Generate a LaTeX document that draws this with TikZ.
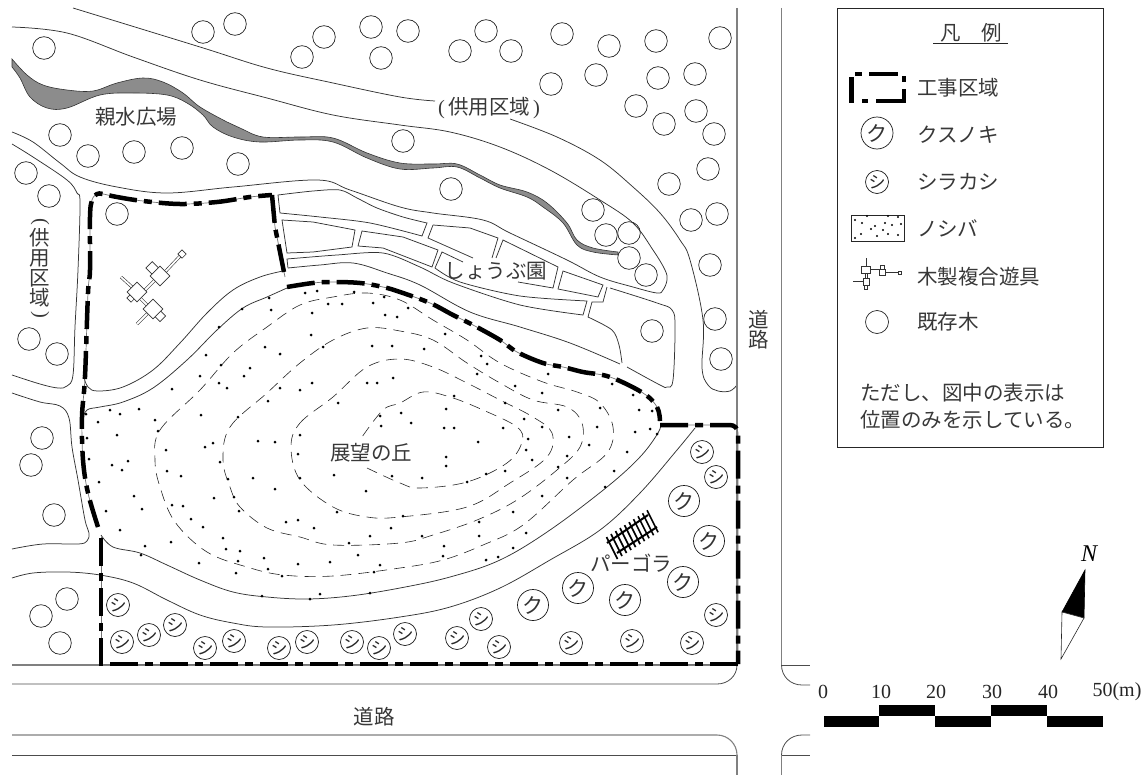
\documentclass[tikz,border=0pt]{standalone}
\usepackage{fontspec}
\setmainfont{Noto Sans CJK JP}
\newfontfamily\latinf{Liberation Serif}
\newcommand{\lbl}{\fontsize{20.5}{24}\selectfont}
\tikzset{
  x=1pt,y=-1pt,
  ln/.style={line width=0.75pt,draw=black!80},
  rd/.style={line width=1.1pt,draw=black!50},
  rdl/.style={line width=0.8pt,draw=black!70},
  contour/.style={line width=0.6pt,draw=black!85,dash pattern=on 11pt off 7pt},
  bound/.style={line width=4.5pt,draw=black,dash pattern=on 28pt off 7pt on 8pt off 7pt,
     preaction={draw,line width=0.7pt,solid,draw=black!55}},
  oldtree/.style={line width=0.7pt,draw=black!85},
  kus/.style={circle,draw=black!90,line width=0.7pt,inner sep=0pt,minimum size=31pt,font=\fontsize{21}{21}\selectfont,text=black!80},
  shi/.style={circle,draw=black!90,line width=0.7pt,inner sep=0pt,minimum size=23pt,font=\fontsize{17}{17}\selectfont,text=black!85},
  txt/.style={inner sep=0pt,font=\lbl,text=black!78},
  lg/.style={txt,anchor=west},
  num/.style={inner sep=0pt,font=\latinf\fontsize{20}{22}\selectfont,text=black!85},
  grass/.style={fill=black,draw=none},
  pgbox/.style={draw=black!80,line width=0.7pt,fill=white,rotate=45,inner sep=0pt,minimum width=#1,minimum height=#1},
  pgbar/.style={draw=black!80,line width=0.6pt,double=white,double distance=1.8pt},
}
\begin{document}
\begin{tikzpicture}
\useasboundingbox (0,0) rectangle (1148,776);
% water
\draw[line width=0.6pt,draw=black!80,fill=black!45]
 plot[smooth,tension=0.6] coordinates {(12,59)(27,75)(43,85)(67,90)(93,91)(117,83)(143,78)(163,82)(183,93)(200,107)(227,122)(240,128)(263,137)(300,137)(333,138)(367,153)(400,163)(433,164)(457,164)(480,175)(500,185)(527,192)(547,203)(567,223)(577,240)(593,248)(618,252)}
 -- plot[smooth,tension=0.6] coordinates {(618,255)(593,252)(577,245)(563,223)(543,207)(527,197)(500,188)(480,178)(457,167)(433,168)(400,169)(367,158)(333,142)(300,140)(260,142)(233,137)(213,127)(203,115)(187,103)(167,95)(133,93)(100,95)(67,108)(47,108)(30,97)(20,78)(12,67)} -- cycle;
% site lines
\draw[ln] plot[smooth,tension=0.6] coordinates {(73,8)(200,47)(267,68)(333,83)(400,97)(435,101)};
\draw[ln] plot[smooth,tension=0.6] coordinates {(510,119)(557,137)(600,160)(633,187)(660,213)(680,240)(690,260)(703,320)(702,368)(708,385)(718,391)(730,391)(737,385)};
\draw[ln] plot[smooth,tension=0.6] coordinates {(12,27)(67,33)(133,57)(200,80)(267,98)(333,115)(400,125)(450,132)(500,147)(550,170)(600,200)(633,223)(653,250)(665,270)(667,280)(663,290)(657,293)(633,287)(600,277)(567,260)(510,233)(483,220)(433,213)(400,207)(350,190)(317,180)(233,187)(167,193)(117,187)(80,177)(60,163)(33,142)(12,132)};
\draw[ln] plot[smooth,tension=0.6] coordinates {(12,144)(33,157)(67,180)(77,193)(80,203)(78,270)(75,327)(73,375)(67,386)(58,388)(40,384)(12,375)};
\draw[ln] plot[smooth,tension=0.6] coordinates {(12,393)(40,402)(60,406)(69,418)(72,447)(78,480)(85,520)(89,533)(87,541)(78,544)(43,544)(12,549)};
\draw[ln] plot[smooth,tension=0.6] coordinates {(12,578)(33,573)(67,572)(100,575)(133,583)(167,600)(200,615)(233,623)(267,627)(333,625)(400,617)(450,607)(500,588)(550,560)(600,530)(640,493)(677,450)(695,428)};
% hill
\draw[ln] plot[smooth,tension=0.6] coordinates {(82,420)(87,410)(100,407)(123,402)(153,388)(187,360)(217,330)(243,308)(267,297)(287,288)};
\draw[ln] plot[smooth,tension=0.6] coordinates {(101,535)(113,547)(140,553)(167,565)(200,580)(233,592)(267,597)(307,599)(350,596)(400,588)(450,577)(500,560)(550,530)(607,487)(640,457)(658,433)(661,423)};
\draw[ln] plot[smooth,tension=0.6] coordinates {(83,375)(88,387)(98,391)(123,387)(153,370)(180,343)(207,313)(233,290)(260,277)(283,271)};
\draw[ln] plot[smooth,tension=0.6] coordinates {(288,268)(320,265)(353,263)(387,273)(420,285)(470,312)(520,327)(570,343)(620,364)};
% shobu beds
\draw[ln] (278,195) -- plot[smooth,tension=0.5] coordinates {(278,195)(313,191)(340,190)(357,198)(377,208)(403,217)(427,223)} -- (422,236) -- plot[smooth,tension=0.5] coordinates {(422,236)(370,223)(320,217)(280,213)} -- cycle;
\draw[ln] (282,220) -- (313,222) -- (355,230) -- (352,247) -- (313,252) -- (287,253) -- cycle;
\draw[ln] (362,231) -- (403,237) -- (438,250) -- (432,267) -- (383,248) -- (358,246) -- cycle;
\draw[ln] (433,225) -- (470,228) -- (498,238) -- (492,258);
\draw[ln] (433,225) -- (428,238) -- (473,258);
\draw[ln] (518,282) -- (553,288) -- (558,267) -- (503,240) -- (496,258);
\draw[ln] (463,262) -- (442,252) -- (435,268) -- plot[smooth,tension=0.5] coordinates {(435,268)(460,282)(520,296)(587,301)} -- (583,315) -- plot[smooth,tension=0.5] coordinates {(583,315)(520,305)(453,283)(420,267)(383,253)(337,255)(287,259)} -- (288,268);
\draw[ln] (563,271) -- (603,285) -- (598,297) -- (558,289) -- cycle;
\draw[ln] plot[smooth,tension=0.5] coordinates {(607,287)(603,302)} -- (592,302) -- (588,317) -- plot[smooth,tension=0.5] coordinates {(588,317)(612,330)(619,345)(622,363)};
\draw[ln] plot[smooth,tension=0.6] coordinates {(610,288)(657,303)(672,310)(675,327)(673,380)(667,387)(660,385)(627,367)};
% roads
\draw[rd] (737,8) -- (737,665) -- (12,665);
\draw[rdl] (12,684) -- (717,684) .. controls (728,684) and (737,676) .. (737,665);
\draw[rd] (12,735) -- (717,735) .. controls (728,735) and (737,744) .. (737,755);
\draw[rdl] (12,755) -- (737,755);
\draw[rd] (737,755) -- (737,775);
\draw[rd] (781.5,8) -- (781.5,665);
\draw[rdl] (781.5,665) -- (810,665);
\draw[rdl] (781.5,665) .. controls (781.5,676) and (790,685) .. (802,685) -- (810,685);
\draw[rdl] (810,735) -- (802,735) .. controls (790,735) and (781.5,744) .. (781.5,755);
\draw[rdl] (781.5,755) -- (810,755);
\draw[rd] (781.5,755) -- (781.5,775);
% contours
\draw[contour] plot[smooth cycle,tension=0.6] coordinates {(155,460)(160,430)(200,390)(233,353)(267,327)(300,305)(333,297)(367,293)(400,300)(433,320)(467,340)(500,363)(543,382)(577,392)(600,403)(613,427)(607,453)(573,480)(523,525)(483,545)(443,560)(400,568)(333,576)(283,575)(247,567)(207,552)(175,522)(160,487)};
\draw[contour] plot[smooth cycle,tension=0.6] coordinates {(223,460)(230,427)(267,393)(300,363)(333,340)(367,328)(400,331)(433,340)(467,363)(500,383)(533,400)(567,407)(582,423)(580,447)(557,470)(517,500)(477,520)(433,535)(400,543)(333,545)(300,537)(267,528)(240,507)(230,487)};
\draw[contour] plot[smooth cycle,tension=0.6] coordinates {(291,447)(300,423)(333,397)(367,367)(400,359)(433,367)(467,383)(500,400)(533,417)(552,433)(547,457)(510,483)(467,507)(400,517)(367,517)(333,507)(300,480)};
\draw[contour] plot[smooth,tension=0.6] coordinates {(367,468)(400,483)(420,488)(467,482)(507,463)(522,442)(517,427)(483,410)(450,397)(423,392)(400,403)(383,410)(362,437)};
% boundary
\draw[bound] (738,664) -- (104,664);
\draw[bound] (101,666) -- (101,537);
\draw[bound] plot[smooth,tension=0.6] coordinates {(98,527)(88,493)(83,460)(82,417)(85,377)(88,293)(90,270)(90,217)(92,200)(97,194)(103,194)(117,197)(143,201)(180,204)(217,202)(250,197)(272,195)};
\draw[bound] (272,195) -- (275,227) -- (285,277);
\draw[bound] plot[smooth,tension=0.6] coordinates {(287,287)(313,283)(333,282)(360,283)(383,287)(400,292)(430,303)(453,315)(473,325)(500,340)(517,352)(543,363)(563,367)(583,372)(610,377)(643,393)(657,407)(660,421)};
\draw[bound,rounded corners=8pt] (660,425) -- (738,425) -- (738,664);
% grass dots
\foreach \x/\y in {269/298,305/293,317/291,354/292,384/297,373/303,328/304,342/304,271/310,242/309,312/313,385/315,397/317,219/327,311/335,265/347,323/347,372/346,392/346,206/355,280/354,221/365,250/368,244/376,200/376,393/378,219/383,227/388,280/388,300/390,312/383,367/383,377/383,172/389,268/401,338/403,110/410,139/409,120/414,86/414,201/415,238/417,155/420,98/422,158/431,380/416,381/426,117/435,87/438,300/435,258/441,275/442,213/443,205/447,166/450,298/454,89/459,128/461,112/465,220/462,122/470,167/471,181/476,253/478,300/478,334/475,392/476,228/479,99/482,275/489,366/491,134/496,214/498,234/497,172/505,183/506,142/509,106/511,239/511,337/512,191/519,286/522,298/520,203/527,314/528,391/528,
120/530,223/538,145/546,171/542,370/536,349/543,226/549,240/551,264/558,238/561,298/564,330/562,358/555,380/565,199/563,268/569,374/572,236/573,282/576,141/555,320/594,262/596,310/599,370/593,
408/308,445/334,424/349,481/356,487/364,477/374,548/374,515/386,612/384,633/395,542/393,454/396,505/403,600/408,446/409,558/410,639/410,652/411,401/413,524/419,411/423,444/428,454/428,503/428,542/427,597/427,650/429,635/432,657/434,569/437,528/439,478/442,589/445,526/450,627/452,446/457,567/456,532/460,446/466,558/467,505/471,614/471,486/474,422/478,567/478,467/482,605/487,542/496,513/512,403/516,479/522,
422/536,479/536,526/533,444/546,513/548,443/556,498/557,486/560}
  \fill[grass] (\x,\y) circle[radius=1.5pt];
% existing trees
\foreach \x/\y in {44/48,203/32,235/24,302/57,324/37,371/27,381/58,408/31,460/51,486/31,511/51,562/34,609/46,656/41,720/38,596/75,658/78,695/74,551/84,636/106,696/111,664/124,714/134,708/169,669/184,691/220,717/214,451/189,593/210,606/235,629/233,629/258,646/275,710/265,652/331,715/319,721/359,403/141,60/135,88/156,134/152,182/148,238/164,26/173,49/196,117/214,29/339,57/354,42/438,31/465,54/515,67/599,41/616,60/643}
  \draw[oldtree] (\x,\y) circle[radius=11.3pt];
% shirakashi
\foreach \x/\y in {118/605,122/642,149/635,175/625,205/648,234/641,279/648,307/642,352/642,379/648,405/634,457/638,481/619,499/647,571/643,632/641,692/643,716/615,702/452,716/477}
  \node[shi] at (\x,\y) {シ};
% kusunoki
\foreach \x/\y in {684/501,709/541,683/582,625/600,578/588,533/605}
  \node[kus] at (\x,\y) {ク};
% pergola
\draw[line width=2pt] (607,543) -- (648,515);
\draw[line width=2pt] (617,553) -- (657,527);
\foreach \t in {0,0.11,...,1.01}
  \draw[line width=1.6pt] ({612+\t*41-5.5},{548-\t*27-11}) -- ({612+\t*41+5.5},{548-\t*27+11});
% play structure
\draw[pgbar] (182,254) -- (165,272);
\draw[pgbar] (155,280) -- (142,293);
\draw[pgbar] (121,277) -- (132,287);
\draw[pgbar] (140,298) -- (150,308);
\draw[pgbar] (137,324) -- (147,314);
\node[pgbox=6pt] at (182,254) {};
\node[pgbox=9pt] at (152.3,268) {};
\node[pgbox=14pt] at (160,276) {};
\node[pgbox=6pt] at (131,298) {};
\node[pgbox=14pt] at (137,292) {};
\node[pgbox=8pt] at (160,316) {};
\node[pgbox=14pt] at (153,309) {};
% map labels
\node[txt] (shinsui) at (136,117) {親水広場};
\node[txt] (kyoyotop) at (489,108) {{\latinf(}\hspace{3pt}供用区域\hspace{3pt}{\latinf)}};
\node[txt,rotate=-90] (kyopa) at (40,222) {\latinf(};
\node[txt] (kyoa) at (40,238) {供};
\node[txt] (kyob) at (40,258) {用};
\node[txt] (kyoc) at (40,278) {区};
\node[txt] (kyod) at (40,298) {域};
\node[txt,rotate=-90] (kyopb) at (40,315) {\latinf)};
\node[txt] (shobu) at (496,271) {しょうぶ園};
\node[txt] (tenbo) at (371,453) {展望の丘};
\node[txt] (pergolat) at (631,563) {パーゴラ};
\node[txt] (doroa) at (374,717) {道路};
\node[txt] (dorob) at (759,320) {道};
\node[txt] (doroc) at (759,340) {路};
% legend
\draw[line width=0.9pt,draw=black!85] (837.5,8.5) rectangle (1103,447);
\node[txt] (hanrei) at (971,33) {凡　例};
\draw[line width=0.9pt,draw=black!85] (933,43) -- (1008,43);
\fill (848.5,77) rectangle (854,103);
\fill (855,72) rectangle (862,76);
\fill (869,72) rectangle (898,76);
\fill (902,76) rectangle (906,82);
\fill (902,89) rectangle (906,103);
\fill (876,98.5) rectangle (906,103);
\fill (862,98.5) rectangle (868,103);
\node[lg] (lga) at (917,88) {工事区域};
\node[kus,minimum size=32pt] (lgks) at (877,133) {ク};
\node[lg] (lgb) at (917,135) {クスノキ};
\node[shi] (lgsh) at (877,182) {シ};
\node[lg] (lgc) at (917,182) {シラカシ};
\draw[line width=0.9pt,draw=black!85] (851,215) rectangle (904,241);
\foreach \x/\y in {855/220,867/216,862/223,888/216,898/217,885/223,901/224,875/226,871/229,883/230,892/225,861/234,855/238,877/236,888/234,898/235}
  \fill[grass] (\x,\y) circle[radius=1.1pt];
\node[lg] (lgd) at (917,228) {ノシバ};
\draw[line width=0.6pt,draw=black!80] (866,258) -- (866,266);
\draw[line width=0.6pt,draw=black!80] (870,269) -- (879,269);
\draw[line width=0.6pt,draw=black!80] (885,272.5) -- (898,272.5);
\draw[line width=0.6pt,draw=black!80] (865,273) -- (865,278) (867,273) -- (867,278);
\draw[line width=0.6pt,draw=black!80] (853,281) -- (863,281);
\draw[line width=0.6pt,draw=black!80,fill=white] (861,266) rectangle (870,273);
\draw[line width=0.6pt,draw=black!80,fill=white] (879,269) rectangle (885,275);
\draw[line width=0.6pt,draw=black!80,fill=white] (880,265) rectangle (884,269);
\draw[line width=0.6pt,draw=black!80,fill=white] (898,271) rectangle (901,274);
\draw[line width=0.6pt,draw=black!80,fill=white] (863,278) rectangle (869,285);
\draw[line width=0.6pt,draw=black!80,fill=white] (864,285) rectangle (867,289);
\node[lg] (lge) at (917,277) {木製複合遊具};
\draw[oldtree] (877,322) circle[radius=11.5pt];
\node[lg] (lgf) at (917,322) {既存木};
\node[txt,anchor=west] (notea) at (860,393) {ただし、図中の表示は};
\node[txt,anchor=west] (noteb) at (860,420) {位置のみを示している。};
% north arrow
\fill[draw=black,line width=0.6pt] (1085,570) -- (1062,612) -- (1084,618) -- cycle;
\draw[line width=0.6pt,draw=black!85,fill=white] (1062,612) -- (1084,618) -- (1061,659) -- cycle;
\node[inner sep=0pt,font=\latinf\itshape\fontsize{24}{24}\selectfont] (north) at (1089,554) {N};
% scale
\fill (823.5,716) rectangle (879,727);
\fill (879,704.5) rectangle (935,716);
\fill (935,716) rectangle (991,727);
\fill (991,704.5) rectangle (1047,716);
\fill (1047,716) rectangle (1103,727);
\node[num] (s0) at (823,692) {0};
\node[num] (s10) at (881,692) {10};
\node[num] (s20) at (936,692) {20};
\node[num] (s30) at (992,692) {30};
\node[num] (s40) at (1048,692) {40};
\node[num] (s50) at (1117,692) {50(m)};
\end{tikzpicture}
\end{document}
